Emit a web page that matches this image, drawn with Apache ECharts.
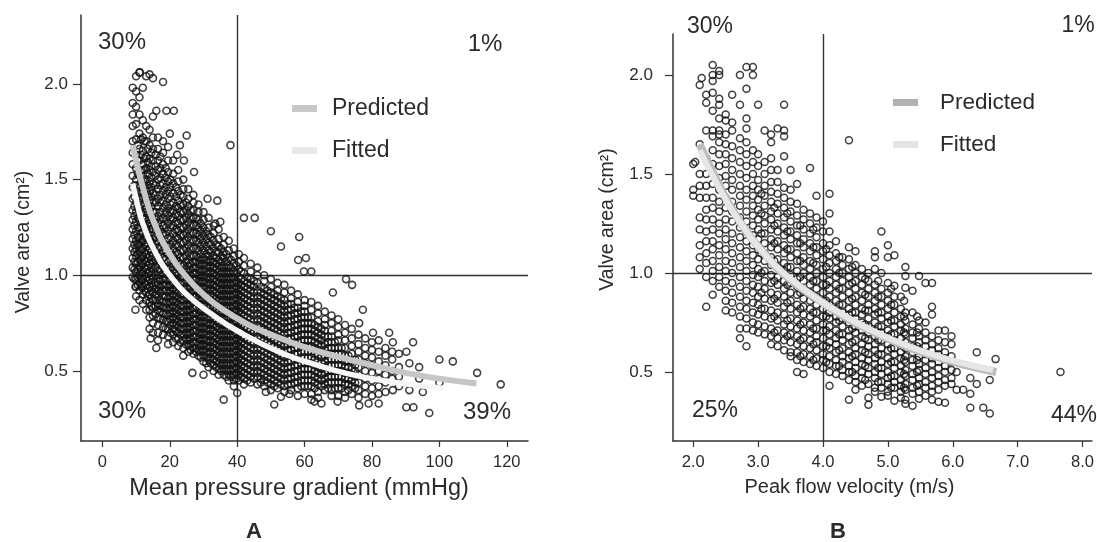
<!DOCTYPE html>
<html><head><meta charset="utf-8">
<style>html,body{margin:0;padding:0;background:#fff}#c{width:1097px;height:542px}</style>
<script src="https://cdn.jsdelivr.net/npm/echarts@6/dist/echarts.min.js"></script>
</head><body><div id="c"></div>
<script>
const xTicksA=[0,20,40,60,80,100,120];
const yTicks=[0.5,1,1.5,2];
const xTicksB=[2,3,4,5,6,7,8];
const predictedA=[[9,1.68],[10,1.6],[12,1.46],[15,1.29],[20,1.11],[25,.99],[30,.9],[35,.83],[43,.745],[50,.69],[60,.625],[73,.56],[80,.53],[90,.49],[100,.46],[111,.435]];
const fittedA=[[9,1.48],[10,1.4],[12,1.27],[16,1.11],[20,1],[25,.9],[33,.79],[40,.71],[53,.595],[63,.535],[73,.485],[85,.445],[101,.41]];
const predictedB=[[2.1,1.65],[2.3,1.51],[2.67,1.285],[3.17,1.07],[3.5,.965],[3.93,.865],[4.3,.785],[4.69,.715],[5.2,.64],[5.71,.58],[6.2,.535],[6.67,.5]];
const fittedB=[[2.1,1.62],[2.3,1.49],[2.67,1.28],[3.17,1.07],[3.5,.97],[3.93,.865],[4.3,.79],[4.69,.72],[5.2,.645],[5.71,.585],[6.2,.54],[6.62,.51]];
const cloudA=[
[9,[1.98,1.9,1.84,1.78,1.7,1.64,1.58,1.52,1.46,1.4,1.34,1.29,1.24,1.19,1.14,1.09,1.04,.99]],
[10,[2.04,1.96,1.88,1.79,1.71,1.63,1.56,1.5,1.44,1.38,1.33,1.28,1.23,1.18,1.14,1.1,1.06,1.02,.98,.94,.89]],
[11,[2.06,1.93,1.84,1.74,1.66,1.6,1.52,1.46,1.4,1.35,1.3,1.25,1.2,1.16,1.12,1.08,1.04,1,.96,.92,.87]],
[12,[1.98,1.81,1.72,1.65,1.58,1.52,1.46,1.41,1.36,1.31,1.27,1.22,1.18,1.14,1.1,1.06,1.02,.98,.94,.9,.85]],
[13,[2.04,1.78,1.7,1.62,1.56,1.5,1.45,1.4,1.35,1.3,1.25,1.2,1.15,1.11,1.07,1.03,.99,.95,.91,.87,.82]],
[14,[2.05,1.76,1.68,1.61,1.55,1.49,1.44,1.39,1.34,1.29,1.24,1.19,1.14,1.1,1.06,1.02,.98,.94,.9,.86,.82,.78,.72]],
[15,[2.03,1.83,1.72,1.66,1.6,1.54,1.48,1.43,1.38,1.33,1.28,1.24,1.19,1.15,1.1,1.06,1.02,.98,.94,.91,.87,.83,.79,.75,.7]],
[16.5,[1.72,1.66,1.6,1.55,1.5,1.45,1.4,1.36,1.31,1.27,1.23,1.18,1.14,1.1,1.06,1.02,.98,.95,.92,.89,.85,.82,.78,.74,.7,.66]],
[18,[1.7,1.64,1.58,1.53,1.48,1.44,1.39,1.35,1.3,1.26,1.22,1.17,1.13,1.09,1.05,1.01,.98,.95,.92,.89,.86,.83,.8,.77,.73,.69]],
[19.5,[1.67,1.6,1.54,1.49,1.44,1.4,1.35,1.31,1.27,1.23,1.19,1.15,1.11,1.07,1.03,1,.97,.94,.91,.88,.85,.82,.79,.76,.72,.68,.64]],
[21,[1.6,1.53,1.48,1.43,1.38,1.34,1.3,1.26,1.22,1.18,1.14,1.1,1.06,1.03,.99,.96,.93,.9,.87,.84,.81,.78,.75,.72,.69,.65]],
[22.5,[1.55,1.49,1.44,1.39,1.35,1.31,1.27,1.23,1.19,1.15,1.11,1.07,1.04,1,.97,.94,.91,.88,.85,.82,.79,.76,.73,.7,.67,.63]],
[24,[1.5,1.45,1.41,1.37,1.33,1.29,1.25,1.21,1.17,1.13,1.09,1.05,1.02,.99,.96,.93,.9,.87,.84,.81,.78,.75,.72,.69,.66,.62,.58]],
[25.5,[1.45,1.4,1.36,1.32,1.28,1.24,1.2,1.16,1.12,1.08,1.05,1.02,.99,.96,.93,.9,.87,.84,.81,.78,.75,.72,.69,.66,.63,.6]],
[27,[1.42,1.38,1.34,1.3,1.26,1.22,1.18,1.14,1.1,1.07,1.04,1.01,.98,.95,.92,.89,.86,.83,.8,.77,.74,.71,.68,.65,.62,.59]],
[28.5,[1.37,1.33,1.29,1.25,1.21,1.17,1.13,1.09,1.06,1.03,1,.97,.94,.91,.88,.85,.82,.79,.76,.73,.7,.67,.64,.61,.58]],
[30,[1.33,1.29,1.25,1.21,1.17,1.13,1.09,1.06,1.03,1,.97,.94,.91,.88,.85,.82,.79,.76,.73,.7,.67,.64,.61,.58,.55]],
[31.5,[1.3,1.25,1.21,1.17,1.13,1.1,1.07,1.04,1.01,.98,.95,.92,.89,.86,.83,.8,.77,.74,.71,.68,.65,.62,.59,.56,.52]],
[33,[1.26,1.22,1.18,1.14,1.1,1.07,1.04,1.01,.98,.95,.92,.89,.86,.83,.8,.77,.74,.71,.68,.65,.62,.59,.56,.53,.5]],
[34.5,[1.24,1.19,1.15,1.12,1.08,1.05,1.02,.99,.96,.93,.9,.87,.84,.81,.78,.75,.72,.69,.66,.63,.6,.57,.54,.51,.48]],
[36,[1.2,1.16,1.12,1.09,1.05,1.02,.99,.96,.93,.9,.87,.84,.81,.78,.75,.72,.69,.66,.63,.6,.57,.54,.51,.48]],
[37.5,[1.18,1.13,1.09,1.05,1.02,.99,.96,.93,.9,.87,.84,.81,.78,.75,.72,.69,.66,.63,.6,.57,.54,.51,.48,.45]],
[39,[1.14,1.1,1.06,1.02,.99,.96,.93,.9,.87,.84,.81,.78,.75,.72,.69,.66,.63,.6,.57,.54,.51,.48,.45,.42]],
[40.5,[1.11,1.07,1.03,.99,.96,.93,.9,.87,.84,.81,.78,.75,.72,.69,.66,.63,.6,.57,.54,.51,.48,.45]],
[42,[1.09,1.05,1.01,.97,.94,.91,.88,.85,.82,.79,.76,.73,.7,.67,.64,.61,.58,.55,.52,.49,.46,.43]],
[44,[1.06,1.02,.98,.95,.92,.89,.86,.83,.8,.77,.74,.71,.68,.65,.62,.59,.56,.53,.5,.47,.44]],
[46,[1.04,1,.96,.92,.89,.86,.83,.8,.77,.74,.71,.68,.65,.62,.59,.56,.53,.5,.47,.43]],
[48,[1,.97,.93,.9,.87,.84,.81,.78,.75,.72,.69,.66,.63,.6,.57,.54,.51,.48,.45,.42]],
[50,[.98,.94,.91,.88,.85,.82,.79,.76,.73,.7,.67,.64,.61,.58,.55,.52,.49,.46,.43,.4]],
[52,[.96,.92,.89,.86,.83,.8,.77,.74,.71,.68,.65,.62,.59,.56,.53,.5,.47,.44,.41]],
[54,[.95,.91,.87,.84,.81,.78,.75,.72,.69,.66,.63,.6,.57,.54,.51,.48,.45,.42,.39]],
[56,[.92,.88,.85,.82,.79,.76,.73,.7,.67,.64,.61,.58,.55,.52,.49,.46,.43,.4]],
[58,[.9,.86,.83,.8,.77,.74,.71,.68,.65,.62,.59,.56,.53,.5,.47,.44,.41,.37]],
[60,[.87,.84,.81,.78,.75,.72,.69,.66,.63,.6,.57,.54,.51,.48,.45,.42,.38]],
[62,[.86,.82,.78,.75,.72,.69,.66,.63,.6,.57,.54,.51,.48,.45,.42,.38,.35]],
[64,[.84,.8,.76,.73,.7,.67,.64,.61,.58,.55,.52,.49,.46,.43,.39,.36]],
[66,[.81,.77,.74,.71,.68,.64,.61,.58,.55,.52,.49,.46,.43,.4]],
[68,[.79,.75,.71,.68,.65,.62,.59,.56,.53,.5,.47,.44,.4,.37]],
[70,[.77,.73,.69,.66,.62,.59,.56,.53,.5,.47,.44,.41,.37]],
[72,[.74,.7,.66,.62,.58,.55,.52,.49,.46,.43,.39,.36]],
[74,[.72,.67,.63,.59,.55,.51,.48,.45,.42,.38]],
[76,[.69,.64,.6,.56,.52,.48,.44,.4,.36]],
[78,[.67,.62,.58,.54,.5,.46,.42,.38]],
[80,[.65,.61,.57,.53,.49,.45,.41,.37]],
[82,[.66,.6,.55,.5,.46,.42,.38]],
[84,[.62,.58,.53,.48,.44,.39]],
[86,[.6,.56,.5,.46]],
[88,[.59,.52,.47,.42]],
[94,[.52,.46]],
[11.1,[2.06]],[18,[2.01]],[16,[1.86,.62]],[19,[1.86]],[21.2,[1.86]],[25,[1.73]],[20,[1.74]],[23,[1.68]],[38,[1.68]],[22.2,[1.63]],[24.2,[1.6]],[27.2,[1.54]],[31.2,[1.4]],[34.1,[1.39]],[42,[1.3]],[45.2,[1.3]],[35,[1.28]],[33.5,[1.27]],[50,[1.23]],[53,[1.15,.365]],[58.4,[1.2]],[58.1,[1.08]],[60.4,[1.09]],[62,[1.02]],[59.8,[1.02]],[72.3,[.98]],[74.1,[.95]],[68.4,[.91]],[77.3,[.82]],[76.2,[.75,.32]],[80.3,[.7]],[85.1,[.7]],[86.2,[.65,.4]],[92.2,[.65]],[90.2,[.6,.31]],[91.1,[.54,.4]],[100,[.56,.44]],[104,[.55]],[111.2,[.49]],[118.2,[.43]],[95.1,[.39]],[92.3,[.31]],[97,[.28]],[82,[.33]],[79,[.33]],[36,[.35]],[40,[.385]],[26.7,[.49]],[30,[.48]],[14.3,[.67]],[9.8,[.82,.94]],[51,[.325]],[55.5,[.38]],[62.9,[.34]],[65,[.33]],[69.8,[.34]],[48.5,[.39]]
];
const coreA=[
[9.5,[1.47,1.41,1.36,1.31,1.26,1.21,1.16,1.12,1.07,1.03,.98]],
[10.5,[1.68,1.6,1.53,1.47,1.41,1.35,1.3,1.25,1.2,1.16,1.11,1.07,1.03,.99,.95]],
[11.5,[1.71,1.63,1.55,1.49,1.43,1.37,1.32,1.27,1.22,1.18,1.14,1.1,1.06,1.02,.98,.94]],
[12.5,[1.7,1.61,1.55,1.49,1.43,1.38,1.33,1.29,1.24,1.2,1.16,1.12,1.08,1.04,1,.96,.92]],
[13.5,[1.66,1.59,1.53,1.47,1.42,1.37,1.32,1.27,1.22,1.17,1.13,1.09,1.05,1.01,.97,.93,.89]],
[14.5,[1.64,1.57,1.51,1.46,1.41,1.36,1.31,1.26,1.21,1.17,1.12,1.08,1.04,1,.96,.92,.88,.84]],
[15.8,[1.63,1.57,1.52,1.47,1.42,1.38,1.33,1.29,1.25,1.2,1.16,1.12,1.08,1.04,1,.96,.93,.9,.87,.84,.8]],
[17.2,[1.62,1.56,1.51,1.47,1.42,1.38,1.33,1.29,1.24,1.2,1.15,1.11,1.07,1.03,1,.97,.94,.91,.87,.84,.81,.77]],
[18.8,[1.56,1.51,1.46,1.42,1.37,1.33,1.29,1.25,1.21,1.16,1.12,1.08,1.04,1.01,.98,.95,.92,.89,.86,.83,.8,.76,.72]],
[20.2,[1.5,1.46,1.41,1.37,1.33,1.29,1.25,1.2,1.16,1.12,1.08,1.04,1.01,.98,.95,.92,.89,.86,.83,.8,.77,.74,.7]],
[21.8,[1.46,1.41,1.36,1.32,1.28,1.24,1.2,1.16,1.12,1.08,1.05,1.01,.98,.95,.92,.89,.86,.83,.8,.77,.74,.71,.67]],
[23.2,[1.42,1.37,1.33,1.29,1.25,1.21,1.17,1.13,1.09,1.06,1.02,.99,.96,.93,.9,.87,.84,.81,.78,.75,.72,.69,.65]],
[24.8,[1.38,1.34,1.3,1.26,1.22,1.18,1.14,1.1,1.07,1.03,1,.97,.94,.91,.88,.85,.82,.79,.76,.73,.7,.67,.64]],
[26.2,[1.34,1.3,1.26,1.22,1.18,1.14,1.1,1.06,1.03,1,.97,.94,.91,.88,.85,.82,.79,.76,.73,.7,.67,.64,.61]],
[27.8,[1.3,1.26,1.22,1.18,1.14,1.1,1.07,1.04,1.01,.98,.95,.92,.89,.86,.83,.8,.77,.74,.71,.68,.65,.62,.6]],
[29.2,[1.27,1.23,1.19,1.15,1.11,1.08,1.05,1.02,.99,.96,.93,.9,.87,.84,.81,.78,.75,.72,.69,.66,.63,.6,.57]],
[30.8,[1.23,1.19,1.15,1.11,1.08,1.05,1.02,.99,.96,.93,.9,.87,.84,.81,.78,.75,.72,.69,.66,.63,.6,.57,.54]],
[32.2,[1.2,1.16,1.12,1.08,1.05,1.02,.99,.96,.93,.9,.87,.84,.81,.78,.75,.72,.69,.66,.63,.6,.57,.54]],
[33.8,[1.16,1.12,1.09,1.06,1.03,1,.97,.94,.91,.88,.85,.82,.79,.76,.73,.7,.67,.64,.61,.58,.55,.52]],
[35.2,[1.14,1.1,1.07,1.04,1.01,.98,.95,.92,.89,.86,.83,.8,.77,.74,.71,.68,.65,.62,.59,.56,.53,.5]],
[36.8,[1.11,1.07,1.04,1.01,.98,.95,.92,.89,.86,.83,.8,.77,.74,.71,.68,.65,.62,.59,.56,.53,.5,.47]],
[38.2,[1.08,1.04,1.01,.98,.95,.92,.89,.86,.83,.8,.77,.74,.71,.68,.65,.62,.59,.56,.53,.5,.47]],
[39.8,[1.05,1.01,.97,.94,.91,.88,.85,.82,.79,.76,.73,.7,.67,.64,.61,.58,.55,.52,.49,.46]],
[41.2,[1.02,.98,.95,.92,.89,.86,.83,.8,.77,.74,.71,.68,.65,.62,.59,.56,.53,.5,.47]],
[43,[.99,.96,.93,.9,.87,.84,.81,.78,.75,.72,.69,.66,.63,.6,.57,.54,.51,.48,.45]],
[45,[.97,.94,.91,.88,.85,.82,.79,.76,.73,.7,.67,.64,.61,.58,.55,.52,.49,.46]],
[47,[.94,.91,.88,.85,.82,.79,.76,.73,.7,.67,.64,.61,.58,.55,.52,.49,.46,.44]],
[49,[.92,.89,.86,.83,.8,.77,.74,.71,.68,.65,.62,.59,.56,.53,.5,.47,.44]],
[51,[.9,.87,.84,.81,.78,.75,.72,.69,.66,.63,.6,.57,.54,.51,.48,.45,.42]],
[53,[.88,.85,.82,.79,.76,.73,.7,.67,.64,.61,.58,.55,.52,.49,.46,.43]],
[55,[.85,.82,.79,.76,.73,.7,.67,.64,.61,.58,.55,.52,.49,.46,.43]],
[57,[.83,.8,.77,.74,.71,.68,.65,.62,.59,.56,.53,.5,.47,.44]],
[59,[.81,.78,.75,.72,.69,.66,.63,.6,.57,.54,.51,.48,.45,.42]],
[61,[.78,.75,.72,.69,.66,.63,.6,.57,.54,.51,.48,.45,.42]],
[63,[.74,.71,.68,.65,.62,.59,.56,.53,.5,.47,.44,.41]],
[65,[.72,.69,.66,.63,.6,.57,.54,.51,.48,.45,.42]],
[67,[.68,.65,.62,.59,.56,.53,.5,.47,.44,.41]],
[69,[.65,.62,.59,.56,.53,.5,.47,.44,.41]],
[71,[.62,.59,.56,.53,.5,.47,.44,.41]],
[73,[.58,.55,.52,.49,.46,.43,.4]],
[75,[.56,.53,.5,.47,.44,.41]]
];
const cloudB=[
[2,[1.42,1.39,1.55]],[2.03,[1.56]],[2.1,[1.95,1.65,1.5,1.44,1.38,1.28,1.22,1.14,1.08,1.02]],[2.13,[1.985]],
[2.2,[1.9,1.86,1.72,1.58,1.5,1.44,1.38,1.32,1.27,1.21,1.16,1.1,1.05,.98,.83]],
[2.3,[2.05,2,1.97,1.91,1.82,1.72,1.69,1.62,1.55,1.5,1.45,1.38,1.33,1.27,1.22,1.16,1.12,1.06,1.01,.96,.89]],
[2.4,[2.02,2,1.88,1.85,1.78,1.72,1.7,1.66,1.6,1.54,1.48,1.42,1.36,1.31,1.25,1.2,1.14,1.09,1.03,.98,.93]],
[2.5,[1.8,1.77,1.7,1.65,1.6,1.55,1.49,1.44,1.38,1.33,1.27,1.22,1.17,1.12,1.06,1.01,.96,.91,.86,.81]],
[2.6,[1.9,1.76,1.72,1.64,1.58,1.52,1.47,1.42,1.36,1.31,1.26,1.2,1.15,1.1,1.05,1,.95,.9,.85,.8]],
[2.72,[2,1.85,1.68,1.62,1.56,1.5,1.44,1.39,1.34,1.28,1.23,1.18,1.13,1.08,1.03,.98,.93,.88,.83,.78,.72,.67]],
[2.82,[2.04,1.93,1.78,1.73,1.66,1.6,1.54,1.48,1.42,1.37,1.31,1.26,1.21,1.16,1.11,1.06,1.01,.96,.91,.86,.82,.77,.72,.63]],
[2.92,[2.04,2,1.62,1.56,1.5,1.44,1.39,1.34,1.29,1.24,1.19,1.14,1.09,1.04,.99,.94,.9,.85,.8,.75,.71]],
[3,[1.85,1.6,1.54,1.47,1.42,1.37,1.32,1.27,1.22,1.17,1.12,1.07,1.02,.98,.93,.88,.84,.79,.74,.7]],
[3.1,[1.72,1.56,1.5,1.44,1.39,1.34,1.29,1.25,1.2,1.15,1.1,1.06,1.01,.96,.92,.87,.82,.78,.73,.69]],
[3.2,[1.7,1.66,1.58,1.52,1.46,1.41,1.36,1.31,1.27,1.22,1.17,1.13,1.08,1.04,.99,.95,.9,.86,.81,.77,.72,.68,.64]],
[3.3,[1.73,1.52,1.46,1.4,1.35,1.3,1.25,1.21,1.16,1.12,1.07,1.03,.98,.94,.89,.85,.8,.76,.71,.67,.63]],
[3.4,[1.85,1.72,1.69,1.59,1.43,1.38,1.33,1.28,1.23,1.19,1.14,1.1,1.05,1.01,.96,.92,.88,.83,.79,.74,.7,.66,.61]],
[3.5,[1.52,1.42,1.36,1.31,1.26,1.21,1.17,1.12,1.08,1.03,.99,.95,.9,.86,.82,.77,.73,.69,.65,.6,.58]],
[3.6,[1.45,1.35,1.29,1.24,1.19,1.15,1.1,1.06,1.01,.97,.93,.89,.84,.8,.76,.72,.68,.64,.6,.56,.5]],
[3.7,[1.32,1.27,1.22,1.17,1.13,1.08,1.04,1,.96,.91,.87,.83,.79,.75,.71,.67,.63,.59,.55,.49]],
[3.8,[1.53,1.3,1.25,1.2,1.15,1.11,1.06,1.02,.98,.94,.9,.86,.82,.78,.74,.7,.66,.62,.58,.54]],
[3.9,[1.39,1.28,1.23,1.18,1.13,1.09,1.04,1,.96,.92,.88,.84,.8,.76,.72,.68,.65,.61,.57,.53]],
[4,[1.26,1.21,1.15,1.11,1.07,1.02,.98,.94,.9,.86,.82,.78,.74,.71,.67,.63,.59,.56,.52]],
[4.1,[1.4,1.3,1.21,1.14,1.09,1.05,1,.96,.92,.88,.84,.8,.77,.73,.69,.65,.62,.58,.54,.5,.43]],
[4.2,[1.16,1.1,1.06,1.02,.98,.94,.9,.86,.82,.78,.75,.71,.67,.64,.6,.56,.53,.49]],
[4.3,[1.08,1.04,1,.96,.92,.88,.84,.8,.77,.73,.69,.66,.62,.58,.55,.51,.48]],
[4.4,[1.67,1.13,1.07,1.02,.98,.94,.9,.86,.82,.79,.75,.71,.68,.64,.6,.57,.53,.5,.46,.36]],
[4.5,[1.11,1.04,1,.96,.92,.88,.84,.8,.77,.73,.7,.66,.62,.59,.55,.52,.48,.45,.41]],
[4.6,[1.02,.98,.94,.9,.86,.82,.79,.75,.71,.68,.64,.61,.57,.54,.5,.47,.43]],
[4.7,[1,.96,.92,.88,.84,.81,.77,.73,.7,.66,.63,.59,.56,.52,.49,.44,.37,.335]],
[4.8,[1.11,1.08,1.02,.94,.9,.86,.82,.79,.75,.71,.68,.64,.61,.57,.54,.5,.47,.42,.4]],
[4.9,[1.21,1,.92,.88,.84,.8,.77,.73,.7,.66,.62,.59,.55,.52,.49,.45,.42,.375]],
[5,[1.14,1.08,.95,.9,.86,.82,.78,.75,.71,.68,.64,.61,.57,.54,.5,.47,.44,.4,.38]],
[5.1,[1.09,.935,.88,.84,.8,.76,.73,.69,.66,.62,.59,.55,.52,.48,.45,.42,.355]],
[5.2,[.88,.82,.78,.74,.71,.67,.64,.6,.57,.53,.5,.46,.43,.4,.37]],
[5.27,[1.03,.985,.925,.8,.76,.72,.69,.65,.62,.58,.55,.51,.48,.44,.41,.36,.34]],
[5.38,[.91,.8,.74,.7,.67,.63,.6,.56,.53,.49,.46,.42,.39,.33]],
[5.48,[.985,.76,.72,.68,.65,.61,.58,.54,.51,.47,.44,.4,.365]],
[5.58,[.95,.75,.7,.66,.63,.59,.56,.52,.49,.45,.42,.38]],
[5.68,[.95,.83,.79,.68,.64,.61,.57,.54,.5,.47,.43,.4,.36]],
[5.78,[.71,.66,.62,.59,.55,.52,.48,.45,.41,.35]],
[5.88,[.71,.65,.6,.57,.53,.5,.46,.43,.345]],
[5.98,[.68,.64,.58,.55,.51,.47,.44]],
[6.06,[.5,.41]],[6.16,[.41]],[6.27,[.47,.39,.32]],[6.37,[.6,.44]],[6.47,[.32]],[6.57,[.46,.29]],[6.66,[.565]],[7.66,[.5]]
];
const coreB=[
[3.05,[1.4,1.3,1.2,1.1,1,.9,.82]],
[3.25,[1.33,1.24,1.15,1.06,.96,.87,.78,.7]],
[3.45,[1.3,1.21,1.12,1.03,.94,.85,.76,.68]],
[3.65,[1.24,1.15,1.06,.98,.9,.82,.74,.66,.58]],
[3.85,[1.22,1.13,1.05,.96,.88,.8,.72,.64,.56]],
[4.05,[1.12,1.03,.94,.86,.78,.71,.63,.55]],
[4.25,[1.08,1,.92,.84,.76,.69,.61,.53]],
[4.45,[1.03,.95,.87,.8,.72,.65,.58,.5]],
[4.65,[.97,.89,.81,.74,.67,.6,.53,.46]],
[4.85,[.96,.88,.8,.73,.66,.59,.52,.45]],
[5.05,[.92,.84,.76,.69,.62,.55,.48,.42]],
[5.25,[.86,.78,.7,.63,.56,.49,.42]],
[5.45,[.78,.7,.63,.56,.5,.43]]
];
const flat=c=>c.flatMap(([x,ys])=>ys.map(y=>[x,y]));
const fam='"Liberation Sans",Arial,sans-serif',ink='#2b2b2b';
const tick=(f)=>({color:ink,fontFamily:fam,fontSize:f});
function xAxis(grid,min,max,ticks,name,dec,fs,nameFs,namePad){return{type:'value',gridIndex:grid,min,max,splitLine:{show:false},name,nameLocation:'middle',nameGap:36,nameTextStyle:{color:ink,fontFamily:fam,fontSize:nameFs,padding:namePad},
axisLine:{onZero:false,lineStyle:{color:'#333',width:1.5}},axisTick:{length:6,lineStyle:{color:'#333',width:1.2},customValues:ticks},
axisLabel:{...tick(fs),margin:13,customValues:ticks,formatter:v=>v.toFixed(dec),showMinLabel:true,showMaxLabel:true}};}
function yAxis(grid,min,max,gap,namePad,margin){return{type:'value',gridIndex:grid,min,max,splitLine:{show:false},name:'Valve area (cm²)',nameLocation:'middle',nameGap:gap,nameRotate:90,nameTextStyle:{color:ink,fontFamily:fam,fontSize:19.5,padding:namePad},
axisLine:{onZero:false,lineStyle:{color:'#333',width:1.5}},axisTick:{length:8,lineStyle:{color:'#333',width:1.2},customValues:yTicks},
axisLabel:{...tick(17),margin,customValues:yTicks,formatter:v=>v.toFixed(1)}};}
const rings=(i,data,vx,size,bw)=>({type:'scatter',xAxisIndex:i,yAxisIndex:i,data,symbol:'circle',symbolSize:size,silent:true,z:2,large:false,
itemStyle:{color:'rgba(0,0,0,0)',borderColor:'#111',borderWidth:bw},
markLine:{silent:true,symbol:'none',label:{show:false},z:1,lineStyle:{color:'#333',width:1.4,type:'solid'},data:[{xAxis:vx},{yAxis:1}],animation:false}});
const curve=(i,name,data,color,w)=>({type:'line',name,xAxisIndex:i,yAxisIndex:i,data,smooth:true,showSymbol:false,z:5,lineStyle:{color,width:w},itemStyle:{color},silent:true});
const lab=(t,x,y,fs,w)=>({type:'text',x,y,style:{text:t,fill:ink,font:(w||'normal')+' '+fs+'px '+fam,textAlign:'center',textVerticalAlign:'middle'}});
const leg=(left,top,c1,c2,fs,pad)=>({left,top,padding:0,orient:'vertical',icon:'rect',itemWidth:25,itemHeight:7,itemGap:19,selectedMode:false,textStyle:{color:ink,fontFamily:fam,fontSize:fs,padding:[0,0,0,pad]},
data:[{name:'Predicted',itemStyle:{color:c1}},{name:'Fitted',itemStyle:{color:c2}}]});
const chart=echarts.init(document.getElementById('c'),null,{renderer:'canvas'});
chart.setOption({animation:false,backgroundColor:'#fff',
grid:[{left:81,top:15,width:447,height:426},{left:673,top:34,width:424,height:407}],
xAxis:[xAxis(0,-6.35,126.3,xTicksA,'Mean pressure gradient (mmHg)',0,16.5,23.5,[0,11,0,0]),xAxis(1,1.688,8.145,xTicksB,'Peak flow velocity (m/s)',1,16.5,20,[0,66,0,0])],
yAxis:[yAxis(0,.134,2.36,47,[0,28,0,0],13),yAxis(1,.1515,2.207,55,[0,0,0,36],20)],
legend:[leg(292,97,'#c8c8c8','#e8e8e8',23,10),leg(893,91,'#b2b2b2','#e4e4e4',22.5,17)],
series:[rings(0,flat(cloudA).concat(flat(coreA)),40,7,1.6),curve(0,'Predicted',predictedA,'#c6c6c6',6),curve(0,'Fitted',fittedA,'#f6f6f6',5.5),
rings(1,flat(cloudB).concat(flat(coreB)),4,7,1.5),curve(1,'Predicted',predictedB,'#bcbcbc',8),curve(1,'Fitted',fittedB,'#e6e6e6',6)],
graphic:[lab('30%',122,42,24),lab('1%',485,44,24),lab('30%',122,411,24),lab('39%',487,412,24),
lab('30%',710,27,23),lab('1%',1078,26,23),lab('25%',715,411,23),lab('44%',1074,416,23),lab('A',254,532,22,'bold'),lab('B',838,532,22,'bold')]});
</script></body></html>
